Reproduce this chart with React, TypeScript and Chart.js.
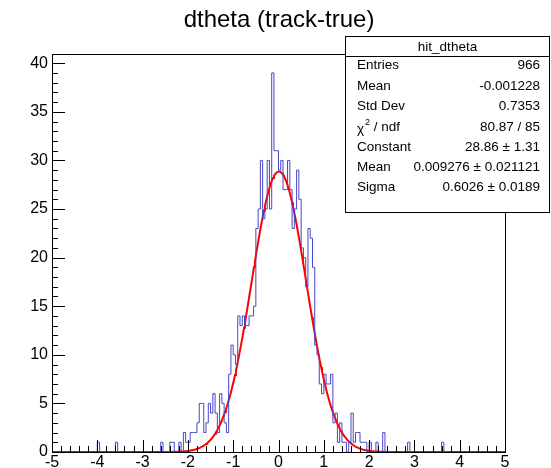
import React, { useEffect, useRef } from "react";
import { Chart, registerables } from "chart.js";

Chart.register(...registerables);

// ---- data ----
const title = "dtheta (track-true)";
const histName = "hit_dtheta";
const xMin = -5;
const xMax = 5;
const binWidth = 0.05;
// 200 bins of width 0.05 from -5 to 5 (counts)
const counts: number[] = [
  0, 0, 0, 0, 0, 0, 0, 0, 0, 0, 0, 0, 0, 0, 0, 0, 0, 0, 0, 0,
  1, 0, 0, 0, 0, 0, 0, 0, 1, 0, 0, 0, 0, 0, 0, 0, 0, 0, 0, 0,
  0, 0, 0, 0, 0, 0, 0, 0, 1, 0, 0, 0, 1, 1, 0, 0, 1, 0, 2, 1,
  1, 2, 2, 2, 3, 5, 5, 2, 3, 5, 4, 6, 4, 2, 6, 5, 3, 2, 8, 11,
  10, 9, 14, 13, 14, 13, 13, 14, 14, 15, 23, 25, 30, 24, 25, 30, 25, 39, 31, 31,
  29, 30, 27, 27, 30, 27, 23, 25, 29, 26, 21, 20, 17, 23, 22, 19, 11, 10, 7, 6,
  8, 7, 7, 8, 3, 4, 1, 3, 1, 1, 0, 1, 4, 1, 2, 2, 1, 1, 1, 0,
  1, 0, 0, 1, 0, 0, 2, 0, 0, 0, 0, 0, 0, 0, 0, 0, 0, 1, 0, 0,
  0, 0, 0, 0, 0, 0, 0, 0, 0, 0, 0, 0, 1, 0, 0, 0, 0, 0, 0, 0,
  0, 0, 0, 0, 0, 0, 0, 0, 0, 0, 0, 0, 0, 0, 0, 0, 0, 0, 0, 0,
];
const xTicks = [-5, -4, -3, -2, -1, 0, 1, 2, 3, 4, 5];
const yTicks = [0, 5, 10, 15, 20, 25, 30, 35, 40];
const yMax = 40.95;
// Gaussian fit parameters (from the stats box)
const fitConstant = 28.86;
const fitMean = 0.009276;
const fitSigma = 0.6026;
const statLabels = ["Entries", "Mean", "Std Dev", "CHI2", "Constant", "Mean", "Sigma"];
const statValues = [
  "966",
  "-0.001228",
  "0.7353",
  "80.87 / 85",
  "28.86 \u00b1 1.31",
  "0.009276 \u00b1 0.021121",
  "0.6026 \u00b1 0.0189",
];

const FONT = "'Liberation Sans', Arial, Helvetica, sans-serif";

export default function App() {
  const ref = useRef<HTMLCanvasElement | null>(null);

  useEffect(() => {
    const canvas = ref.current;
    if (!canvas) return;

    const histPts: { x: number; y: number }[] = counts.map((c, i) => ({
      x: xMin + i * binWidth,
      y: c,
    }));
    histPts.push({ x: xMax, y: counts[counts.length - 1] });

    const fitPts: { x: number; y: number }[] = [];
    const nFit = 500;
    for (let k = 0; k <= nFit; k++) {
      const x = xMin + ((xMax - xMin) * k) / nFit;
      const z = (x - fitMean) / fitSigma;
      fitPts.push({ x, y: fitConstant * Math.exp(-0.5 * z * z) });
    }

    const overlay = {
      id: "rootOverlay",
      afterDraw(chart: any) {
        const ctx = chart.ctx as CanvasRenderingContext2D;
        const a = chart.chartArea;
        const xs = chart.scales.x;
        const ys = chart.scales.y;
        ctx.save();
        // frame
        ctx.strokeStyle = "#000";
        ctx.lineWidth = 1;
        ctx.strokeRect(Math.round(a.left) + 0.5, Math.round(a.top) + 0.5, Math.round(a.right - a.left), Math.round(a.bottom - a.top));
        // x ticks inside
        ctx.beginPath();
        for (let v = xMin; v <= xMax + 1e-9; v += 0.2) {
          const px = Math.round(xs.getPixelForValue(v)) + 0.5;
          const major = Math.abs(v - Math.round(v)) < 1e-6;
          const len = major ? 12 : 6;
          ctx.moveTo(px, a.bottom);
          ctx.lineTo(px, a.bottom - len);
        }
        // y ticks inside
        for (let v = 0; v <= 40 + 1e-9; v += 1) {
          const py = Math.round(ys.getPixelForValue(v)) + 0.5;
          const major = v % 5 === 0;
          const len = major ? 13 : 6;
          ctx.moveTo(a.left, py);
          ctx.lineTo(a.left + len, py);
        }
        ctx.stroke();

        // title
        ctx.fillStyle = "#000";
        ctx.font = `24px ${FONT}`;
        ctx.textAlign = "center";
        ctx.textBaseline = "alphabetic";
        ctx.fillText(title, 279, 27);

        // stats box
        const bx = 345.5, by = 36.5, bw = 204, bh = 176;
        ctx.fillStyle = "#fff";
        ctx.fillRect(bx, by, bw, bh);
        ctx.strokeStyle = "#000";
        ctx.strokeRect(bx, by, bw, bh);
        ctx.beginPath();
        ctx.moveTo(bx, 56.5);
        ctx.lineTo(bx + bw, 56.5);
        ctx.stroke();
        ctx.fillStyle = "#000";
        ctx.font = `13.5px ${FONT}`;
        ctx.textAlign = "center";
        ctx.textBaseline = "middle";
        ctx.fillText(histName, bx + bw / 2, 47);
        const rowY = [65, 86, 106, 127, 147, 167, 187];
        statLabels.forEach((lab, i) => {
          const y = rowY[i];
          ctx.textAlign = "left";
          ctx.font = `13.5px ${FONT}`;
          if (lab === "CHI2") {
            ctx.fillText("\u03c7", 357, y + 2);
            const w = ctx.measureText("\u03c7").width;
            ctx.font = `9px ${FONT}`;
            ctx.fillText("2", 357 + w + 1, y - 4);
            ctx.font = `13.5px ${FONT}`;
            ctx.fillText(" / ndf", 357 + w + 6, y);
          } else {
            ctx.fillText(lab, 357, y);
          }
          ctx.textAlign = "right";
          ctx.fillText(statValues[i], 540, y);
        });
        ctx.restore();
      },
    };

    const chart = new Chart(canvas, {
      type: "line",
      data: {
        datasets: [
          {
            label: histName,
            data: histPts,
            stepped: "before",
            borderColor: "rgb(70,70,200)",
            borderWidth: 1,
            pointRadius: 0,
            fill: false,
            tension: 0,
            clip: false,
          } as any,
          {
            label: "gaus",
            data: fitPts,
            borderColor: "rgb(255,0,0)",
            borderWidth: 2,
            pointRadius: 0,
            fill: false,
            tension: 0,
            clip: false,
          } as any,
        ],
      },
      options: {
        responsive: false,
        animation: false,
        devicePixelRatio: 1,
        parsing: false,
        normalized: true,
        layout: { padding: { left: 0, top: 54, right: 46, bottom: 0 } },
        plugins: {
          legend: { display: false },
          title: { display: false },
          tooltip: { enabled: false },
        },
        scales: {
          x: {
            type: "linear",
            min: xMin,
            max: xMax,
            grid: { display: false, drawTicks: false },
            border: { display: false },
            afterFit: (s: any) => {
              s.height = 16;
            },
            afterBuildTicks: (s: any) => {
              s.ticks = xTicks.map((v) => ({ value: v }));
            },
            ticks: {
              autoSkip: false,
              maxRotation: 0,
              padding: 1,
              color: "#000",
              font: { family: FONT, size: 16 },
              callback: (v: any) => String(v),
            },
          },
          y: {
            type: "linear",
            min: 0,
            max: yMax,
            grid: { display: false, drawTicks: false },
            border: { display: false },
            afterFit: (s: any) => {
              s.width = 52;
            },
            afterBuildTicks: (s: any) => {
              s.ticks = yTicks.map((v) => ({ value: v }));
            },
            ticks: {
              padding: 4,
              color: "#000",
              font: { family: FONT, size: 16 },
              callback: (v: any) => String(v),
            },
          },
        },
      } as any,
      plugins: [overlay],
    });

    return () => chart.destroy();
  }, []);

  return (
    <div style={{ position: "absolute", left: 0, top: 0, width: 551, height: 468, background: "#fff" }}>
      <canvas ref={ref} width={551} height={468} style={{ display: "block", width: 551, height: 468 }} />
    </div>
  );
}
